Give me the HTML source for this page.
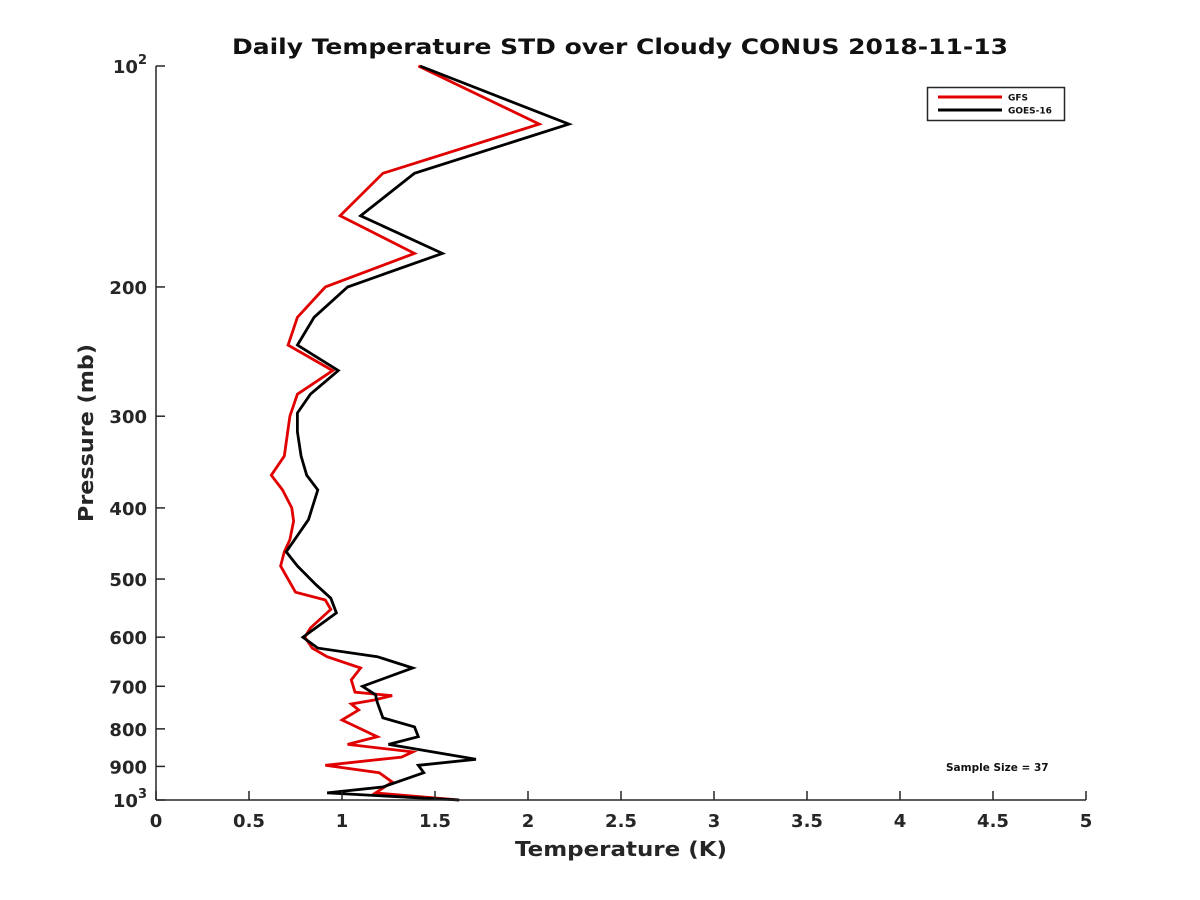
<!DOCTYPE html>
<html><head><meta charset="utf-8"><style>
body{margin:0;background:#fff;}
svg{display:block;font-family:"DejaVu Sans","Liberation Sans",sans-serif;font-weight:bold;}
</style></head><body>
<svg id="chart" width="1200" height="900" viewBox="0 0 1200 900" xmlns="http://www.w3.org/2000/svg">
<rect width="1200" height="900" fill="#fff"/>
<text x="620" y="54" text-anchor="middle" font-size="21" fill="#111" textLength="776" lengthAdjust="spacingAndGlyphs">Daily Temperature STD over Cloudy CONUS 2018-11-13</text>
<g id="plot"></g>
<text x="621" y="856" text-anchor="middle" font-size="20" fill="#262626" textLength="212" lengthAdjust="spacingAndGlyphs">Temperature (K)</text>
<text transform="translate(93,433) rotate(-90)" text-anchor="middle" font-size="20" fill="#262626" textLength="178" lengthAdjust="spacingAndGlyphs">Pressure (mb)</text>
<g>
<rect x="927.5" y="87.5" width="137" height="33" fill="#fff" stroke="#262626" stroke-width="1.5"/>
<line x1="938" y1="97" x2="1002" y2="97" stroke="#e00000" stroke-width="3"/>
<text x="1008" y="100.5" font-size="9" fill="#111">GFS</text>
<line x1="938" y1="110" x2="1002" y2="110" stroke="#000" stroke-width="3"/>
<text x="1008" y="113.5" font-size="9" fill="#111">GOES-16</text>
</g>
<text x="946" y="771" font-size="10.5" fill="#111">Sample Size = 37</text>
</svg>
<script>
const xTicks=[0,0.5,1,1.5,2,2.5,3,3.5,4,4.5,5];
const yTicks=[100,200,300,400,500,600,700,800,900,1000];
const gfsTemp=[1.41,2.06,1.22,0.99,1.39,0.91,0.76,0.71,0.95,0.76,0.72,0.69,0.62,0.68,0.73,0.74,0.72,0.69,0.67,0.75,0.91,0.94,0.83,0.80,0.84,0.92,1.10,1.05,1.07,1.27,1.17,1.05,1.09,1.00,1.19,1.03,1.38,1.32,0.91,1.20,1.27,1.18,1.63];
const gfsPres=[100,120,140,160,180,200,220,240,260,280,300,340,361,378,400,417,442,459,480,521,534,550,583,600,621,638,661,686,713,721,731,740,754,778,820,840,860,874,897,918,945,978,1000];
const goesTemp=[1.42,2.22,1.39,1.10,1.54,1.03,0.85,0.76,0.98,0.83,0.76,0.76,0.78,0.81,0.87,0.82,0.70,0.76,0.86,0.94,0.97,0.79,0.87,1.19,1.38,1.11,1.18,1.19,1.22,1.39,1.41,1.25,1.72,1.41,1.44,1.22,0.92,1.63];
const goesPres=[100,120,140,160,180,200,220,240,260,280,297,315,340,361,378,415,459,480,509,531,556,600,621,638,661,700,719,736,773,795,820,840,880,897,918,960,978,1000];
const NS="http://www.w3.org/2000/svg";
const X0=156,X1=1086,Y0=66,Y1=800;
function xs(v){return X0+(v-0)/(5-0)*(X1-X0);}
function ys(p){return Y0+(Math.log10(p)-2)*(Y1-Y0);}
const g=document.getElementById('plot');
function mk(t,a){const e=document.createElementNS(NS,t);for(const k in a)e.setAttribute(k,a[k]);g.appendChild(e);return e;}
function series(T,P,color,name){
  const pts=T.map((t,i)=>xs(t).toFixed(1)+","+ys(P[i]).toFixed(1)).join(" ");
  const el=mk('polyline',{points:pts,fill:'none',stroke:color,'stroke-width':2.8,'stroke-linejoin':'miter'});
  
  
}
series(gfsTemp,gfsPres,'#e00000','gfs-line');
series(goesTemp,goesPres,'#000','goes16-line');
let ax=mk('line',{x1:X0,y1:Y1,x2:X1,y2:Y1,stroke:'#262626','stroke-width':1.5});


ax=mk('line',{x1:X0,y1:Y0,x2:X0,y2:Y1,stroke:'#262626','stroke-width':1.5});


xTicks.forEach(v=>{
  const x=xs(v);
  mk('line',{x1:x,y1:Y1,x2:x,y2:Y1-9,stroke:'#262626','stroke-width':1.5});
  const t=mk('text',{x:x,y:Y1+27,'text-anchor':'middle','font-size':18,fill:'#262626'});
  t.textContent=String(v);
  
  
});
yTicks.forEach(p=>{
  const y=ys(p);
  mk('line',{x1:X0,y1:y,x2:X0+9,y2:y,stroke:'#262626','stroke-width':1.5});
  const t=mk('text',{x:X0-9,y:y+7,'text-anchor':'end','font-size':18,fill:'#262626'});
  if(p===100||p===1000){
    t.textContent='10';
    const s=document.createElementNS(NS,'tspan');
    s.setAttribute('dy','-9');s.setAttribute('font-size','13');
    s.textContent=p===100?'2':'3';
    t.appendChild(s);
  } else t.textContent=String(p);
  
  
});
</script>
</body></html>
